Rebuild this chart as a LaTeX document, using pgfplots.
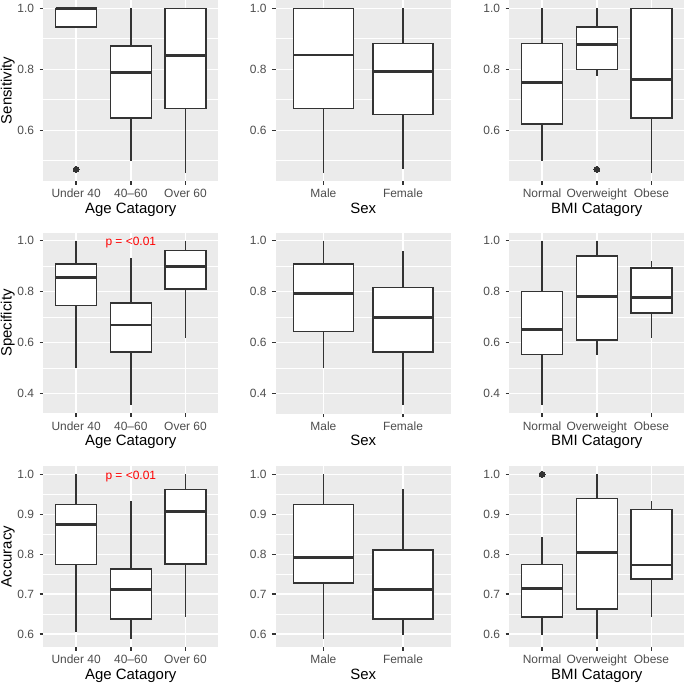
\documentclass[border=0pt]{standalone}
\usepackage{fontspec}
\setmainfont{Liberation Sans}
\usepackage{pgfplots}
\pgfplotsset{compat=1.18}
\usepgfplotslibrary{statistics}
\definecolor{grey92}{HTML}{EBEBEB}
\definecolor{grey20}{HTML}{333333}
\definecolor{grey30}{HTML}{4D4D4D}
\pgfplotsset{
  gg/.style={
    scale only axis, width=175bp, height=181bp, anchor=north west,
    axis background/.style={fill=grey92},
    axis line style={draw=none},
    xmajorgrids, ymajorgrids, yminorgrids,
    major grid style={white, line width=1.45bp},
    minor grid style={white, line width=0.73bp},
    tick align=outside, tick pos=left,
    major tick length=3.75bp, minor tick length=0pt,
    major tick style={grey20, line width=1.45bp},
    minor tick style={draw=none},
    ticklabel style={font=\fontsize{12}{14}\selectfont, text=grey30, inner sep=0pt},
    xticklabel style={anchor=north},
    yticklabel style={anchor=east},
    xticklabel shift=4.25bp, yticklabel shift=5.25bp,
    every axis x label/.style={at={(axis description cs:0.5,-0.1199)}, anchor=north, inner sep=0pt, font=\fontsize{15}{18}\selectfont},
    every axis y label/.style={at={(axis description cs:-0.1617,0.5)}, rotate=90, anchor=south, inner sep=0pt, font=\fontsize{15}{18}\selectfont},
  },
  gbox/.style={draw=grey20, fill=white, line width=1.45bp, mark=*, mark size=2.9bp, mark options={draw=grey20, fill=grey20, line width=0pt},
    boxplot/draw direction=y, boxplot/box extend=0.75, boxplot/whisker extend=0,
    boxplot/every median/.style={line width=2.9bp}},
  row1/.style={ymin=0.4338, ymax=1.0272, ytick={0.6,0.8,1.0}, yticklabels={0.6,0.8,1.0}, minor ytick={0.5,0.7,0.9}},
  row2/.style={ymin=0.3217, ymax=1.0323, ytick={0.4,0.6,0.8,1.0}, yticklabels={0.4,0.6,0.8,1.0}, minor ytick={0.5,0.7,0.9}},
  row3/.style={ymin=0.568, ymax=1.0206, ytick={0.6,0.7,0.8,0.9,1.0}, yticklabels={0.6,0.7,0.8,0.9,1.0}, minor ytick={0.65,0.75,0.85,0.95}},
  age/.style={xmin=0.4, xmax=3.6, xtick={1,2,3}, xticklabels={Under 40,40–60,Over 60}, xlabel={Age Catagory}},
  sex/.style={xmin=0.4, xmax=2.6, xtick={1,2}, xticklabels={Male,Female}, xlabel={Sex}},
  bmi/.style={xmin=0.4, xmax=3.6, xtick={1,2,3}, xticklabels={Normal,Overweight,Obese}, xlabel={BMI Catagory}},
}
\newcommand{\bx}[6]{\addplot[gbox, boxplot prepared={draw position=#1, lower whisker=#2, lower quartile=#3, median=#4, upper quartile=#5, upper whisker=#6}]}
\begin{document}
\begin{tikzpicture}
\useasboundingbox (0,0) rectangle (685bp,-684bp);
% ---------- Row 1: Sensitivity ----------
\begin{axis}[gg, row1, age, at={(43.3bp,0bp)}, ylabel={Sensitivity}]
\bx{1}{0.939}{0.939}{1.0}{1.0}{1.0} table[row sep=\\, y index=0] {y\\ 0.472\\};
\bx{2}{0.499}{0.641}{0.790}{0.877}{1.0} coordinates {};
\bx{3}{0.461}{0.672}{0.844}{1.0}{1.0} coordinates {};
\end{axis}
\begin{axis}[gg, row1, sex, at={(275.7bp,0bp)}]
\bx{1}{0.461}{0.671}{0.847}{1.0}{1.0} coordinates {};
\bx{2}{0.473}{0.651}{0.793}{0.885}{1.0} coordinates {};
\end{axis}
\begin{axis}[gg, row1, bmi, at={(509.3bp,0bp)}]
\bx{1}{0.499}{0.621}{0.758}{0.885}{1.0} coordinates {};
\bx{2}{0.778}{0.800}{0.881}{0.938}{1.0} table[row sep=\\, y index=0] {y\\ 0.472\\};
\bx{3}{0.461}{0.640}{0.766}{1.0}{1.0} coordinates {};
\end{axis}
% ---------- Row 2: Specificity ----------
\begin{axis}[gg, row2, age, at={(43.3bp,-232.5bp)}, ylabel={Specificity}]
\bx{1}{0.499}{0.746}{0.855}{0.909}{1.0} coordinates {};
\bx{2}{0.354}{0.563}{0.669}{0.756}{0.932} coordinates {};
\bx{3}{0.619}{0.810}{0.898}{0.961}{1.0} coordinates {};
\node[text=red, font=\fontsize{12}{14}\selectfont, yshift=-2bp] at (axis cs:2,1.0) {p = <0.01};
\end{axis}
\begin{axis}[gg, row2, sex, at={(275.7bp,-232.5bp)}]
\bx{1}{0.499}{0.643}{0.793}{0.909}{1.0} coordinates {};
\bx{2}{0.354}{0.563}{0.699}{0.816}{0.961} coordinates {};
\end{axis}
\begin{axis}[gg, row2, bmi, at={(509.3bp,-232.5bp)}]
\bx{1}{0.354}{0.553}{0.653}{0.800}{1.0} coordinates {};
\bx{2}{0.551}{0.610}{0.780}{0.940}{1.0} coordinates {};
\bx{3}{0.619}{0.717}{0.776}{0.893}{0.922} coordinates {};
\end{axis}
% ---------- Row 3: Accuracy ----------
\begin{axis}[gg, row3, age, at={(43.3bp,-466bp)}, ylabel={Accuracy}]
\bx{1}{0.605}{0.775}{0.875}{0.924}{1.0} coordinates {};
\bx{2}{0.588}{0.6375}{0.712}{0.763}{0.933} coordinates {};
\bx{3}{0.642}{0.776}{0.9075}{0.962}{1.0} coordinates {};
\node[text=red, font=\fontsize{12}{14}\selectfont, yshift=-2bp] at (axis cs:2,1.0) {p = <0.01};
\end{axis}
\begin{axis}[gg, row3, sex, at={(275.7bp,-466bp)}]
\bx{1}{0.588}{0.7275}{0.7925}{0.924}{1.0} coordinates {};
\bx{2}{0.598}{0.6375}{0.712}{0.811}{0.9625} coordinates {};
\end{axis}
\begin{axis}[gg, row3, bmi, at={(509.3bp,-466bp)}]
\bx{1}{0.598}{0.6425}{0.715}{0.774}{0.8425} table[row sep=\\, y index=0] {y\\ 1.0\\};
\bx{2}{0.589}{0.6625}{0.805}{0.94}{1.0} coordinates {};
\bx{3}{0.6425}{0.738}{0.773}{0.9125}{0.933} coordinates {};
\end{axis}
\end{tikzpicture}
\end{document}
